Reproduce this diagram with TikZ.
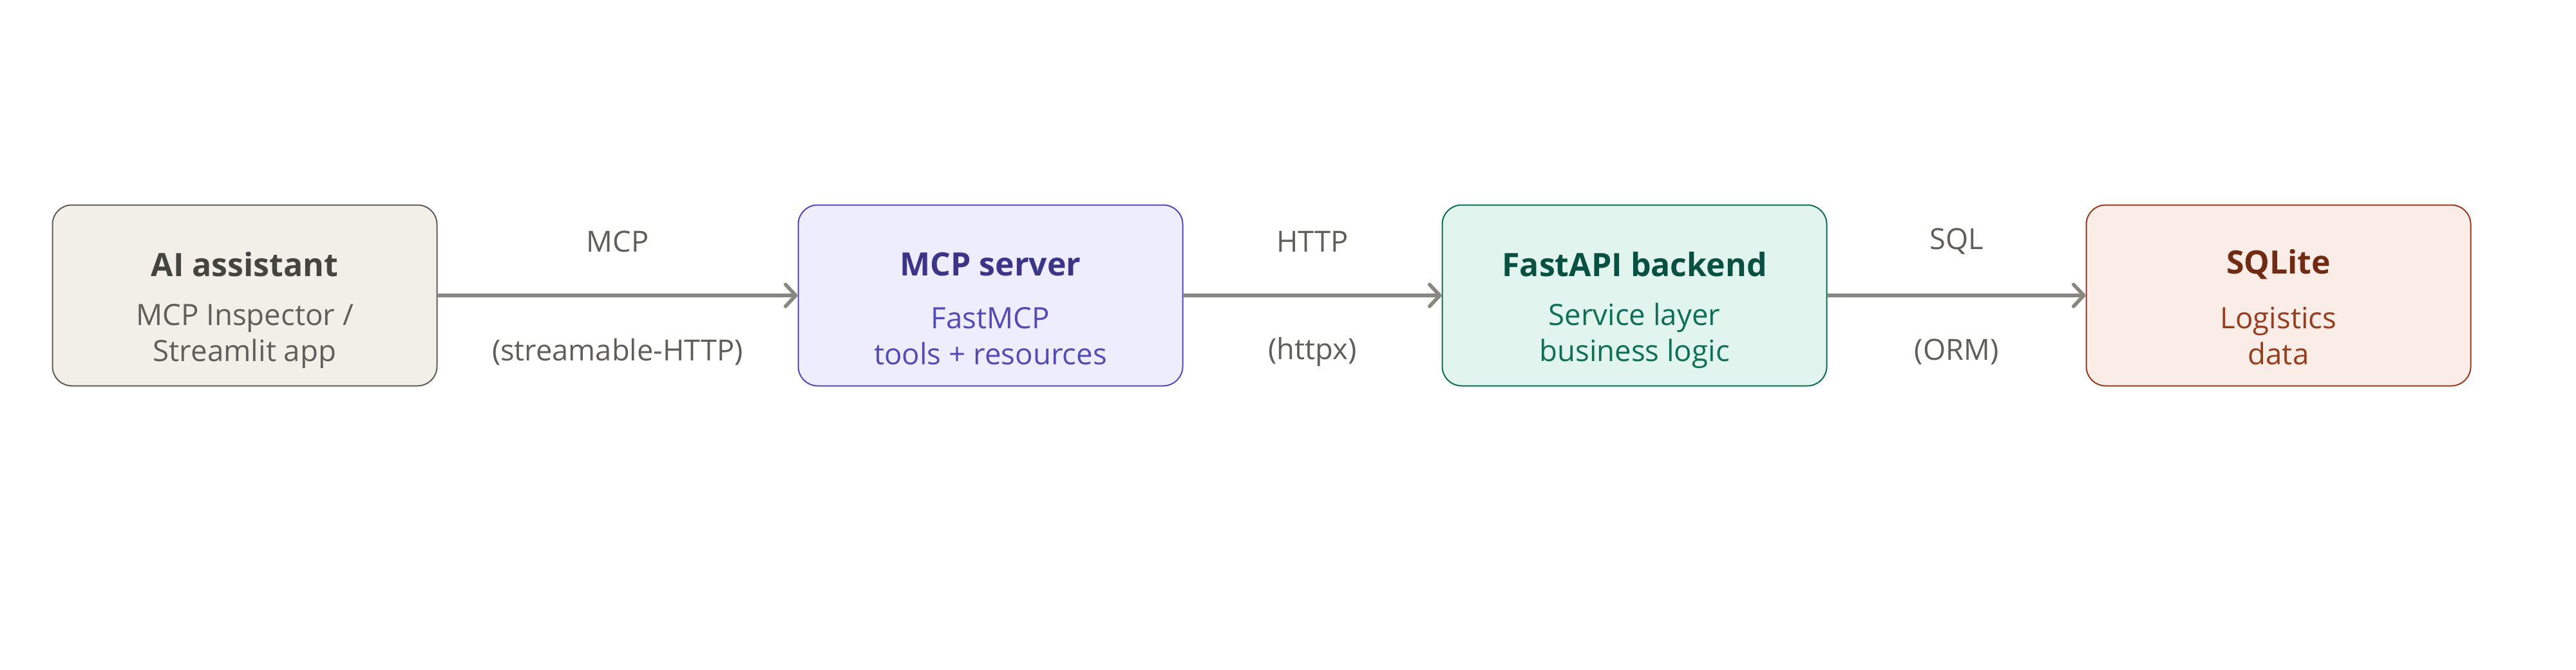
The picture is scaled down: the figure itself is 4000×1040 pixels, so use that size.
\documentclass[tikz,border=0pt]{standalone}
\usepackage{fontspec}
\setmainfont{Open Sans}
\usetikzlibrary{arrows.meta,calc}
\definecolor{gfill}{HTML}{F1EFE8}\definecolor{gdraw}{HTML}{5F5E5A}\definecolor{gtitle}{HTML}{444441}
\definecolor{pfill}{HTML}{EEEDFE}\definecolor{pdraw}{HTML}{534AB7}\definecolor{ptitle}{HTML}{3C3489}
\definecolor{tfill}{HTML}{E1F5EE}\definecolor{tdraw}{HTML}{0F6E56}\definecolor{ttitle}{HTML}{085041}
\definecolor{cfill}{HTML}{FAECE7}\definecolor{cdraw}{HTML}{993C1D}\definecolor{ctitle}{HTML}{712B13}
\definecolor{arrowc}{HTML}{888780}
\tikzset{
  x=0.25pt, y=-0.25pt,
  boxbase/.style={draw, rounded corners=7.5pt, line width=0.5pt, minimum width=149.25pt, minimum height=70.25pt, inner sep=0pt},
  gbox/.style={boxbase, fill=gfill, draw=gdraw},
  pbox/.style={boxbase, fill=pfill, draw=pdraw},
  tbox/.style={boxbase, fill=tfill, draw=tdraw},
  cbox/.style={boxbase, fill=cfill, draw=cdraw},
  ttl/.style={font=\fontsize{12.5}{14}\selectfont\bfseries, inner sep=0pt},
  sub/.style={font=\fontsize{11.4}{14}\selectfont, align=center, inner sep=0pt},
  elabel/.style={font=\fontsize{11.3}{14}\selectfont, text=gdraw, inner sep=0pt},
  conn/.style={draw=arrowc, line width=1.4pt, -{Straight Barb[length=4pt, width=8.5pt, round]}},
}
\begin{document}
\begin{tikzpicture}
\useasboundingbox (0,0) rectangle (4000,1040);
\node[gbox] (ai) at (380,459) {};
\node[pbox] (mcp) at (1538,459) {};
\node[tbox] (api) at (2538,459) {};
\node[cbox] (db) at (3538,459) {};
\node[ttl, text=gtitle] (ait) at ($(ai.center)+(0,-48)$) {AI assistant};
\node[sub, text=gdraw] (ais) at ($(ai.center)+(0,63)$) {MCP Inspector /\\Streamlit app};
\node[ttl, text=ptitle] (mcpt) at ($(mcp.center)+(0,-48)$) {MCP server};
\node[sub, text=pdraw] (mcps) at ($(mcp.center)+(0,63)$) {FastMCP\\tools + resources};
\node[ttl, text=ttitle] (apit) at ($(api.center)+(0,-48)$) {FastAPI backend};
\node[sub, text=tdraw] (apis) at ($(api.center)+(0,63)$) {Service layer\\business logic};
\node[ttl, text=ctitle] (dbt) at ($(db.center)+(0,-48)$) {SQLite};
\node[sub, text=cdraw] (dbs) at ($(db.center)+(0,63)$) {Logistics\\data};
\draw[conn] (ai.east) -- (mcp.west);
\draw[conn] (mcp.east) -- (api.west);
\draw[conn] (api.east) -- (db.west);
\node[elabel] (l1a) at ($(ai.east)!0.5!(mcp.west)+(0,-84)$) {MCP};
\node[elabel] (l1b) at ($(ai.east)!0.5!(mcp.west)+(0,88)$) {(streamable-HTTP)};
\node[elabel] (l2a) at ($(mcp.east)!0.5!(api.west)+(0,-84)$) {HTTP};
\node[elabel] (l2b) at ($(mcp.east)!0.5!(api.west)+(0,88)$) {(httpx)};
\node[elabel] (l3a) at ($(api.east)!0.5!(db.west)+(0,-84)$) {SQL};
\node[elabel] (l3b) at ($(api.east)!0.5!(db.west)+(0,88)$) {(ORM)};
\end{tikzpicture}
\end{document}
